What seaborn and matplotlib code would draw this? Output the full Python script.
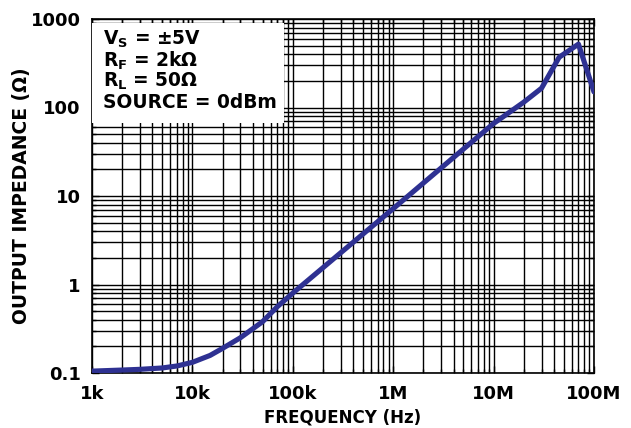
import numpy as np
import pandas as pd
import matplotlib
matplotlib.use("Agg")
import matplotlib.pyplot as plt
import seaborn as sns
from matplotlib.ticker import LogLocator, FixedLocator, FixedFormatter, NullFormatter

# Output impedance vs. frequency
freq_hz = [1e3, 2e3, 3e3, 5e3, 7e3, 1e4, 1.5e4, 2e4, 3e4, 5e4, 7e4, 1e5,
           1e6, 1e7, 2e7, 3e7, 4.5e7, 7e7, 1e8]
impedance_ohm = [0.105, 0.108, 0.110, 0.114, 0.12, 0.132, 0.158, 0.19, 0.25, 0.38, 0.56, 0.8,
                 7.2, 66, 115, 165, 370, 520, 150]

x_ticks = [1e3, 1e4, 1e5, 1e6, 1e7, 1e8]
x_tick_labels = ["1k", "10k", "100k", "1M", "10M", "100M"]
y_ticks = [0.1, 1, 10, 100, 1000]
y_tick_labels = ["0.1", "1", "10", "100", "1000"]

conditions = [r"V$_\mathbf{S}$ = ±5V", r"R$_\mathbf{F}$ = 2kΩ", r"R$_\mathbf{L}$ = 50Ω", "SOURCE = 0dBm"]

sns.set_style("white")
plt.rcParams["font.family"] = ["DejaVu Sans"]
plt.rcParams["font.weight"] = "bold"
plt.rcParams["text.color"] = "black"
plt.rcParams["axes.labelcolor"] = "black"
plt.rcParams["xtick.color"] = "black"
plt.rcParams["ytick.color"] = "black"
plt.rcParams["mathtext.fontset"] = "dejavusans"
plt.rcParams["mathtext.default"] = "bf"

df = pd.DataFrame({"freq": freq_hz, "z": impedance_ohm})

fig = plt.figure(figsize=(6.31, 4.28), dpi=100)
ax = fig.add_axes([92 / 631, 55 / 428, 502 / 631, 354 / 428])

sns.lineplot(data=df, x="freq", y="z", ax=ax, color="#2e3192", linewidth=3.7, zorder=5)

ax.set_xscale("log")
ax.set_yscale("log")
ax.set_xlim(1e3, 1e8)
ax.set_ylim(0.1, 1000)

ax.xaxis.set_major_locator(FixedLocator(x_ticks))
ax.xaxis.set_major_formatter(FixedFormatter(x_tick_labels))
ax.yaxis.set_major_locator(FixedLocator(y_ticks))
ax.yaxis.set_major_formatter(FixedFormatter(y_tick_labels))
ax.xaxis.set_minor_locator(LogLocator(base=10, subs=np.arange(2, 10), numticks=20))
ax.yaxis.set_minor_locator(LogLocator(base=10, subs=np.arange(2, 10), numticks=20))
ax.xaxis.set_minor_formatter(NullFormatter())
ax.yaxis.set_minor_formatter(NullFormatter())

ax.grid(True, which="both", color="black", linewidth=1.0)
ax.set_axisbelow(True)
ax.tick_params(which="both", direction="in", color="black", width=1.0,
               top=True, right=True, bottom=True, left=True)
ax.tick_params(which="major", length=5, labelsize=13)
ax.tick_params(axis="x", which="major", pad=8.5)
ax.tick_params(axis="y", which="major", pad=8)
ax.tick_params(which="minor", length=3)
for lab in ax.get_xticklabels() + ax.get_yticklabels():
    lab.set_fontweight("bold")
for s in ax.spines.values():
    s.set_color("black")
    s.set_linewidth(1.2)

ax.set_xlabel("FREQUENCY (Hz)", fontsize=12, fontweight="bold", labelpad=4)
ax.set_ylabel("OUTPUT IMPEDANCE (Ω)", fontsize=13.5, fontweight="bold", labelpad=0)

# White panel for the test conditions
ax.add_patch(plt.Rectangle((0.0, 0.706), 0.382, 0.282, transform=ax.transAxes,
                           facecolor="white", edgecolor="none", zorder=3))
baselines = [0.9266, 0.866, 0.808, 0.7486]
for line, yb in zip(conditions, baselines):
    ax.text(0.022, yb, line, transform=ax.transAxes, fontsize=13.4,
            fontweight="bold", va="baseline", ha="left", zorder=4)

fig.savefig("out.png", dpi=100)
